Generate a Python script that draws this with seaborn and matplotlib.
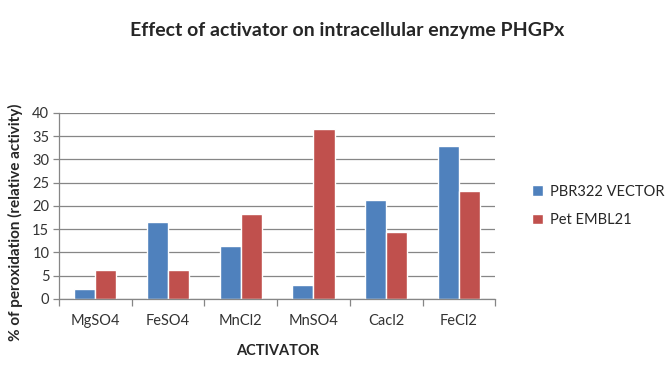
import pandas as pd
import matplotlib.pyplot as plt
import seaborn as sns
from matplotlib.ticker import FixedLocator

############
# Data
############
activators = ['MgSO4', 'FeSO4', 'MnCl2', 'MnSO4', 'Cacl2', 'FeCl2']
series_names = ['PBR322 VECTOR', 'Pet EMBL21']
pbr322 = [2.1, 16.6, 11.3, 2.9, 21.3, 32.9]
pet_embl21 = [6.2, 6.2, 18.3, 36.6, 14.4, 23.1]
colors = ['#4F81BD', '#C0504D']

data = pd.DataFrame({
    'activator': activators * 2,
    'series': [series_names[0]] * len(activators) + [series_names[1]] * len(activators),
    'value': pbr322 + pet_embl21,
})

sns.set_style('white')
plt.rcParams['font.family'] = ['Lato', 'DejaVu Sans']

fig = plt.figure(figsize=(6.67, 3.70), dpi=100)
ax = fig.add_axes([0.0885, 0.192, 0.654, 0.503])

sns.barplot(data=data, x='activator', y='value', hue='series', order=activators,
            hue_order=series_names, palette=colors, width=0.58, gap=0,
            saturation=1, ax=ax, legend=True)

ax.set_ylim(0, 40)
ax.set_yticks(range(0, 41, 5))
ax.set_xlim(-0.5, len(activators) - 0.5)
ax.yaxis.grid(True, color='#868686', linewidth=0.9)
ax.set_axisbelow(True)
for side in ['top', 'right']:
    ax.spines[side].set_visible(False)
for side in ['left', 'bottom']:
    ax.spines[side].set_color('#868686')
    ax.spines[side].set_linewidth(0.9)

# ticks between categories on x, short outward ticks on y
ax.xaxis.set_minor_locator(FixedLocator([i - 0.5 for i in range(len(activators) + 1)]))
ax.tick_params(axis='x', which='major', length=0, labelsize=10.5, pad=11, labelcolor='#333333')
ax.tick_params(axis='x', which='minor', length=5, color='#868686', width=0.9, direction='out')
ax.tick_params(axis='y', length=4, color='#868686', width=0.9, direction='out', labelsize=10.5,
               pad=3, labelcolor='#333333')
ax.tick_params(bottom=True, left=True, which='both')

ax.set_xlabel('ACTIVATOR', fontsize=10.5, fontweight='bold', labelpad=11)
ax.set_ylabel('% of peroxidation (relative activity)', fontsize=11, fontweight='bold')
ax.yaxis.set_label_coords(-0.082, 0.41)

fig.suptitle('Effect of activator on intracellular enzyme PHGPx', fontsize=14,
             fontweight='bold', x=0.52, y=0.94)

ax.legend(loc='center left', bbox_to_anchor=(1.055, 0.5), frameon=False, fontsize=10.5,
          handlelength=0.7, handleheight=0.7, handletextpad=0.5, labelspacing=1.0)

fig.savefig('out.png', dpi=100, facecolor='white')
